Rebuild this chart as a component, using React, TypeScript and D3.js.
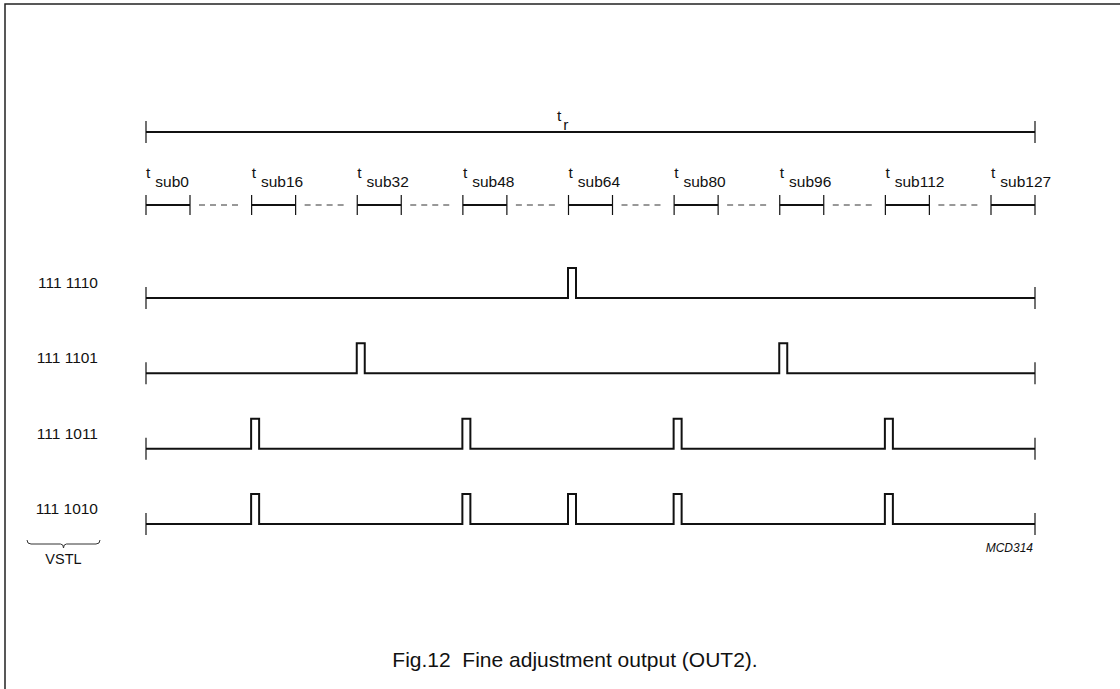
import React, { useRef, useEffect } from "react";
import * as d3 from "d3";

// sub-period markers along the top ruler
const subIndices = [0, 16, 32, 48, 64, 80, 96, 112, 127];
const subLabels = ["sub0", "sub16", "sub32", "sub48", "sub64", "sub80", "sub96", "sub112", "sub127"];

// output codes and the sub-periods in which a pulse appears
const rowCodes = ["111 1110", "111 1101", "111 1011", "111 1010"];
const rowPulses = [
  [64],
  [32, 96],
  [16, 48, 80, 112],
  [16, 48, 64, 80, 112],
];

const FONT = "'Liberation Sans', Arial, Helvetica, sans-serif";

export default function App() {
  const svgRef = useRef<SVGSVGElement>(null);

  useEffect(() => {
    if (!svgRef.current) return;
    const svg = d3.select(svgRef.current);
    svg.selectAll("*").remove();

    const width = 1120;
    const height = 689;
    const segW = 44; // drawn width of one sub-period
    const pulseW = 8;
    const pulseH = 30;

    // markers are drawn evenly spaced (schematic)
    const x = d3.scalePoint<number>().domain(subIndices).range([146, 991]);
    const xEnd = x(127)! + segW;
    const y = d3.scalePoint<string>().domain(rowCodes).range([298, 524]);

    svg.attr("width", width).attr("height", height);

    // frame (top and left edge)
    svg
      .append("path")
      .attr("d", `M5,${height} V4 H${width}`)
      .attr("fill", "none")
      .attr("stroke", "#222")
      .attr("stroke-width", 1.5);

    const g = svg.append("g").attr("font-family", FONT).attr("fill", "#111");

    // total period t_r
    const trY = 132;
    g.append("line")
      .attr("x1", x(0)!).attr("x2", xEnd)
      .attr("y1", trY).attr("y2", trY)
      .attr("stroke", "#111").attr("stroke-width", 2);
    [x(0)!, xEnd].forEach((px) =>
      g.append("line")
        .attr("x1", px).attr("x2", px)
        .attr("y1", trY - 11).attr("y2", trY + 11)
        .attr("stroke", "#111").attr("stroke-width", 1.2)
    );
    const trLabel = g.append("text")
      .attr("x", 557)
      .attr("y", trY - 11)
      .attr("font-size", 15.5)
      .text("t");
    trLabel.append("tspan").attr("dx", 2).attr("dy", 9).text("r");

    // sub-period ruler
    const subY = 205;
    subIndices.forEach((idx, i) => {
      const x0 = x(idx)!;
      const x1 = x0 + segW;
      g.append("line")
        .attr("x1", x0).attr("x2", x1)
        .attr("y1", subY).attr("y2", subY)
        .attr("stroke", "#111").attr("stroke-width", 2);
      [x0, x1].forEach((px) =>
        g.append("line")
          .attr("x1", px).attr("x2", px)
          .attr("y1", subY - 10).attr("y2", subY + 10)
          .attr("stroke", "#111").attr("stroke-width", 1.2)
      );
      if (i < subIndices.length - 1) {
        g.append("line")
          .attr("x1", x1 + 9).attr("x2", x(subIndices[i + 1])! - 12)
          .attr("y1", subY).attr("y2", subY)
          .attr("stroke", "#333").attr("stroke-width", 1)
          .attr("stroke-dasharray", "6,5");
      }
      const t = g.append("text")
        .attr("x", x0)
        .attr("y", subY - 27)
        .attr("font-size", 15.5)
        .text("t");
      t.append("tspan").attr("dx", 5).attr("dy", 9).text(subLabels[i]);
    });

    // output rows
    rowCodes.forEach((code, r) => {
      const by = y(code)!;
      const path = d3.path();
      path.moveTo(x(0)!, by);
      rowPulses[r].forEach((p) => {
        const px = x(p)! - 0.5;
        path.lineTo(px, by);
        path.lineTo(px, by - pulseH);
        path.lineTo(px + pulseW, by - pulseH);
        path.lineTo(px + pulseW, by);
      });
      path.lineTo(xEnd, by);
      g.append("path")
        .attr("d", path.toString())
        .attr("fill", "none")
        .attr("stroke", "#111")
        .attr("stroke-width", 2);
      [x(0)!, xEnd].forEach((px) =>
        g.append("line")
          .attr("x1", px).attr("x2", px)
          .attr("y1", by - 11).attr("y2", by + 11)
          .attr("stroke", "#111").attr("stroke-width", 1.2)
      );
      g.append("text")
        .attr("x", 98)
        .attr("y", by - 10)
        .attr("text-anchor", "end")
        .attr("font-size", 15.5)
        .text(code);
    });

    // VSTL brace under the last code
    const lastY = y(rowCodes[rowCodes.length - 1])!;
    const bx0 = 27, bx1 = 100, bTop = lastY + 16, bBot = lastY + 22;
    const bm = (bx0 + bx1) / 2;
    g.append("path")
      .attr("d",
        `M${bx0},${bTop} Q${bx0},${bBot - 2} ${bx0 + 4},${bBot - 2} L${bm - 3},${bBot - 2} Q${bm},${bBot - 2} ${bm},${bBot + 2} Q${bm},${bBot - 2} ${bm + 3},${bBot - 2} L${bx1 - 4},${bBot - 2} Q${bx1},${bBot - 2} ${bx1},${bTop}`)
      .attr("fill", "none")
      .attr("stroke", "#333")
      .attr("stroke-width", 1);
    g.append("text")
      .attr("x", bm)
      .attr("y", lastY + 40)
      .attr("text-anchor", "middle")
      .attr("font-size", 14.5)
      .text("VSTL");

    g.append("text")
      .attr("x", xEnd - 2)
      .attr("y", lastY + 28)
      .attr("text-anchor", "end")
      .attr("font-size", 12)
      .attr("font-style", "italic")
      .text("MCD314");

    // caption
    g.append("text")
      .attr("x", 575)
      .attr("y", 667)
      .attr("text-anchor", "middle")
      .attr("font-size", 21)
      .style("white-space", "pre")
      .text("Fig.12  Fine adjustment output (OUT2).");
  }, []);

  return (
    <svg
      ref={svgRef}
      style={{ position: "absolute", left: 0, top: 0, display: "block", background: "#fff" }}
    />
  );
}
